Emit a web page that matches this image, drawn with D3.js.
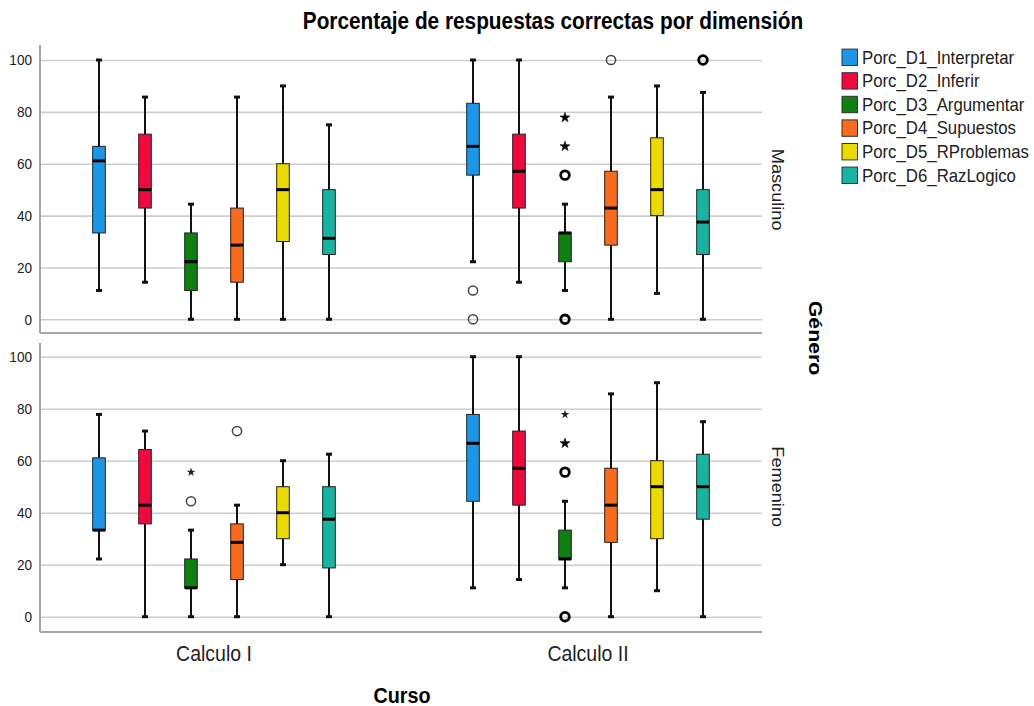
<!DOCTYPE html>
<html>
<head>
<meta charset="utf-8">
<script src="https://cdn.jsdelivr.net/npm/d3@7"></script>
<style>
  html, body { margin: 0; padding: 0; background: #fff; }
  svg { display: block; font-family: "Liberation Sans", Arial, sans-serif; }
</style>
</head>
<body>
<svg id="chart" width="1034" height="706"></svg>
<script>
// ---------------- DATA ----------------
const courses = ["Calculo I", "Calculo II"];
const genders = ["Masculino", "Femenino"];
const dims = ["Porc_D1_Interpretar", "Porc_D2_Inferir", "Porc_D3_Argumentar",
              "Porc_D4_Supuestos", "Porc_D5_RProblemas", "Porc_D6_RazLogico"];
const yTicks = [0, 20, 40, 60, 80, 100];

// five-number summaries per dimension: [min, Q1, median, Q3, max]
const masculinoCalculoI = [
  [11.1, 33.3, 61.1, 66.7, 100],
  [14.3, 42.9, 50.0, 71.4, 85.7],
  [0, 11.1, 22.2, 33.3, 44.4],
  [0, 14.3, 28.6, 42.9, 85.7],
  [0, 30, 50, 60, 90],
  [0, 25, 31.25, 50, 75]
];
const masculinoCalculoII = [
  [22.2, 55.6, 66.7, 83.3, 100],
  [14.3, 42.9, 57.1, 71.4, 100],
  [11.1, 22.2, 33.3, 33.3, 44.4],
  [0, 28.6, 42.9, 57.1, 85.7],
  [10, 40, 50, 70, 90],
  [0, 25, 37.5, 50, 87.5]
];
const femeninoCalculoI = [
  [22.2, 33.3, 33.3, 61.1, 77.8],
  [0, 35.7, 42.9, 64.3, 71.4],
  [0, 11.1, 11.1, 22.2, 33.3],
  [0, 14.3, 28.6, 35.7, 42.9],
  [20, 30, 40, 50, 60],
  [0, 18.75, 37.5, 50, 62.5]
];
const femeninoCalculoII = [
  [11.1, 44.4, 66.7, 77.8, 100],
  [14.3, 42.9, 57.1, 71.4, 100],
  [11.1, 22.2, 22.2, 33.3, 44.4],
  [0, 28.6, 42.9, 57.1, 85.7],
  [10, 30, 50, 60, 90],
  [0, 37.5, 50, 62.5, 75]
];

// outliers: [genero, curso, dimension index, value, symbol, several cases]
const outliers = [
  ["Masculino", "Calculo II", 0, 11.1, "circle", false],
  ["Masculino", "Calculo II", 0, 0, "circle", false],
  ["Masculino", "Calculo II", 2, 77.8, "star", true],
  ["Masculino", "Calculo II", 2, 66.7, "star", true],
  ["Masculino", "Calculo II", 2, 55.6, "circle", true],
  ["Masculino", "Calculo II", 2, 0, "circle", true],
  ["Masculino", "Calculo II", 3, 100, "circle", false],
  ["Masculino", "Calculo II", 5, 100, "circle", true],
  ["Femenino", "Calculo I", 2, 55.6, "star", false],
  ["Femenino", "Calculo I", 2, 44.4, "circle", false],
  ["Femenino", "Calculo I", 3, 71.4, "circle", false],
  ["Femenino", "Calculo II", 2, 77.8, "star", false],
  ["Femenino", "Calculo II", 2, 66.7, "star", true],
  ["Femenino", "Calculo II", 2, 55.6, "circle", true],
  ["Femenino", "Calculo II", 2, 0, "circle", true]
];

// colours per dimension
const colors = ["#1E96E8", "#EE0A3D", "#0F7F12", "#F96B1E", "#EBD900", "#1AB3A0"];

const stats = {
  "Masculino|Calculo I": masculinoCalculoI,
  "Masculino|Calculo II": masculinoCalculoII,
  "Femenino|Calculo I": femeninoCalculoI,
  "Femenino|Calculo II": femeninoCalculoII
};

// ---------------- LAYOUT ----------------
const svg = d3.select("#chart");
const FONT = '"Liberation Sans", Arial, sans-serif';
const plotLeft = 40, plotRight = 762;

const x = d3.scaleBand().domain(courses).range([27, 775]).paddingInner(0).paddingOuter(0);
const xi = d3.scaleBand().domain(d3.range(dims.length)).range([-138, 138]);
const color = d3.scaleOrdinal().domain(d3.range(dims.length)).range(colors);
const boxW = 12.6;

const panels = [
  { gender: "Masculino", y: d3.scaleLinear().domain([0, 100]).range([319.3, 60]), top: 45, bottom: 333 },
  { gender: "Femenino", y: d3.scaleLinear().domain([0, 100]).range([616.7, 356.7]), top: 343, bottom: 632 }
];

function stretchedText(g, px, py, str, size, weight, anchor, sy, rotate, fill) {
  const t = g.append("g")
    .attr("transform", `translate(${px},${py})` + (rotate ? ` rotate(${rotate}) scale(${sy},1)` : ` scale(1,${sy})`));
  t.append("text")
    .attr("text-anchor", anchor)
    .attr("font-family", FONT)
    .attr("font-size", size)
    .attr("font-weight", weight)
    .attr("fill", fill || "#000")
    .text(str);
  return t;
}

// Title
stretchedText(svg, 553, 29, "Porcentaje de respuestas correctas por dimensión", 20.8, "bold", "middle", 1.12);

panels.forEach(p => {
  const y = p.y;
  const g = svg.append("g");

  // gridlines + tick labels
  const axis = d3.axisLeft(y).tickValues(yTicks).tickSize(-(plotRight - plotLeft)).tickPadding(8);
  const ag = g.append("g").attr("transform", `translate(${plotLeft},0)`).call(axis);
  ag.select(".domain").remove();
  ag.selectAll(".tick line").attr("stroke", "#cdcdcd").attr("stroke-width", 1.6);
  ag.selectAll(".tick text")
    .attr("font-family", FONT).attr("font-size", 13.6).attr("fill", "#222")
    .attr("dy", "0.33em").attr("transform", "scale(1,1.1)");

  // axis frame lines
  g.append("line").attr("x1", plotLeft).attr("x2", plotLeft).attr("y1", p.top).attr("y2", p.bottom)
    .attr("stroke", "#a6a6a6").attr("stroke-width", 2);
  g.append("line").attr("x1", plotLeft).attr("x2", plotRight).attr("y1", p.bottom).attr("y2", p.bottom)
    .attr("stroke", "#a6a6a6").attr("stroke-width", 2);

  // boxes
  courses.forEach(c => {
    const s = stats[p.gender + "|" + c];
    s.forEach((d, i) => {
      const cx = x(c) + x.bandwidth() / 2 + xi(i) + xi.bandwidth() / 2;
      const [mn, q1, md, q3, mx] = d;
      const bg = g.append("g");
      bg.append("line").attr("x1", cx).attr("x2", cx).attr("y1", y(mx)).attr("y2", y(mn))
        .attr("stroke", "#111").attr("stroke-width", 2);
      [mn, mx].forEach(v => {
        bg.append("line").attr("x1", cx - 3).attr("x2", cx + 3).attr("y1", y(v)).attr("y2", y(v))
          .attr("stroke", "#111").attr("stroke-width", 3);
      });
      bg.append("rect").attr("x", cx - boxW / 2).attr("width", boxW)
        .attr("y", y(q3)).attr("height", Math.max(0.5, y(q1) - y(q3)))
        .attr("fill", color(i)).attr("stroke", "#222").attr("stroke-width", 1);
      bg.append("line").attr("x1", cx - boxW / 2).attr("x2", cx + boxW / 2)
        .attr("y1", y(md)).attr("y2", y(md)).attr("stroke", "#000").attr("stroke-width", 3);
    });
  });

  // outliers
  outliers.filter(o => o[0] === p.gender).forEach(o => {
    const [gen, c, i, v, sym, multi] = o;
    const cx = x(c) + x.bandwidth() / 2 + xi(i) + xi.bandwidth() / 2;
    if (sym === "circle") {
      g.append("circle").attr("cx", cx).attr("cy", y(v)).attr("r", multi ? 4.3 : 4.6)
        .attr("fill", "none").attr("stroke", multi ? "#000" : "#444")
        .attr("stroke-width", multi ? 2.8 : 1.5);
    } else {
      g.append("path").attr("d", d3.symbol(d3.symbolStar, multi ? 30 : 24)())
        .attr("transform", `translate(${cx},${y(v)})`)
        .attr("fill", multi ? "#000" : "#222").attr("stroke", "#000").attr("stroke-width", multi ? 0.6 : 0);
    }
  });

  const cy = (y(0) + y(100)) / 2;
  stretchedText(svg, 772, cy, p.gender, 15.8, "normal", "middle", 1.15, 90, "#222");
});

// X category labels
courses.forEach(c => {
  stretchedText(svg, x(c) + x.bandwidth() / 2, 661, c, 19.5, "normal", "middle", 1.12, null, "#222");
});

// Axis titles
stretchedText(svg, 402, 703, "Curso", 19.8, "bold", "middle", 1.12);
stretchedText(svg, 809, 338, "Género", 18.5, "bold", "middle", 1.15, 90);

// Legend
const lg = svg.append("g");
dims.forEach((d, i) => {
  const cyL = 57.3 + i * 23.6;
  lg.append("rect").attr("x", 842).attr("y", cyL - 8.2).attr("width", 15.5).attr("height", 16.4)
    .attr("fill", color(i)).attr("stroke", "#333").attr("stroke-width", 1);
  stretchedText(lg, 862, cyL + 6.3, d, 16.8, "normal", "start", 1.13, null, "#222");
});
</script>
</body>
</html>
